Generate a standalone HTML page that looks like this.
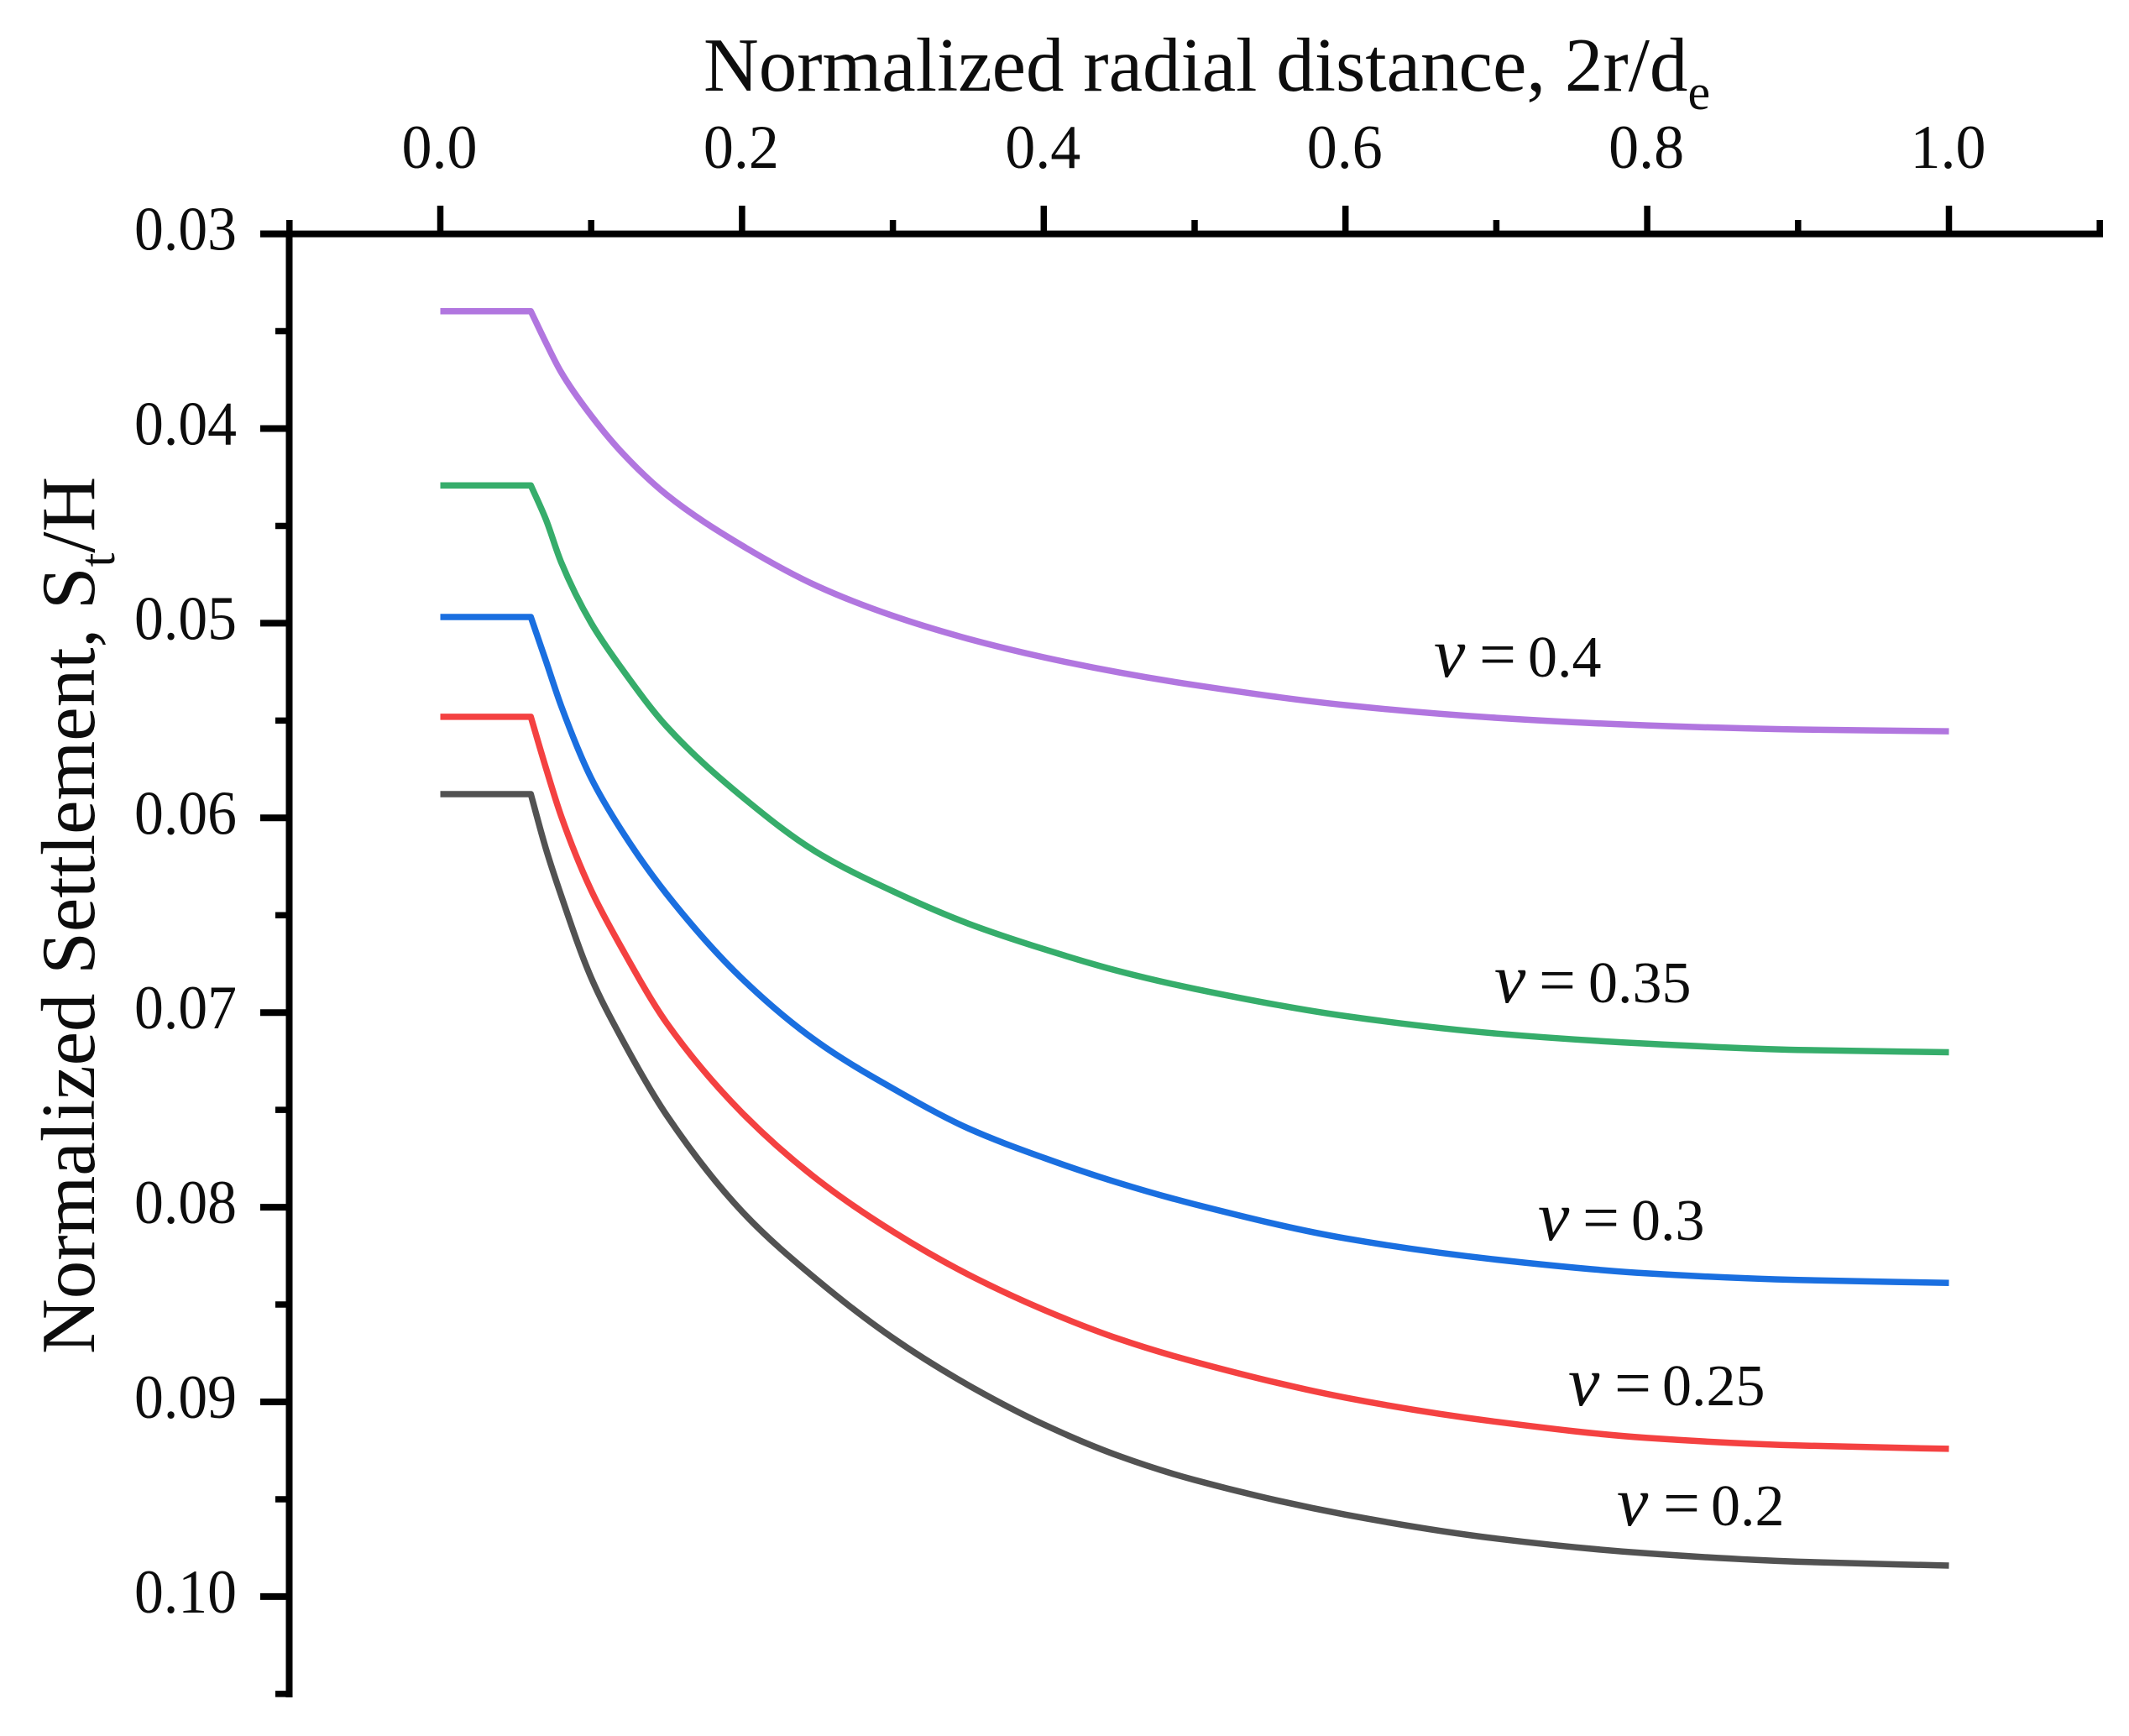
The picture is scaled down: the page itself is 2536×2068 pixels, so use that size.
<!DOCTYPE html>
<html lang="en">
<head>
<meta charset="utf-8">
<title>Normalized Settlement vs Radial Distance</title>
<style>
html,body{margin:0;padding:0;background:#fff;}
svg{display:block;}
text{font-family:"Liberation Serif","DejaVu Serif",serif;fill:#0d0d0d;}
</style>
</head>
<body>
<svg id="chart" xmlns="http://www.w3.org/2000/svg" width="2536" height="2068" viewBox="0 0 2536 2068">
  <rect x="0" y="0" width="2536" height="2068" fill="#ffffff"/>
  <g id="axes"></g>
  <g id="series"></g>
  <g id="tick-labels"></g>
  <text x="838" y="108" font-size="91">Normalized radial distance, 2r/d<tspan font-size="60" dy="22">e</tspan></text>
  <text transform="translate(112,1613) rotate(-90)" font-size="91">Normalized Settlement, S<tspan font-size="60" dy="24">t</tspan><tspan dy="-24">/H</tspan></text>
  <text y="806" font-size="70"><tspan x="1708" font-size="84" font-style="italic">ν</tspan><tspan x="1762" font-size="78">=</tspan><tspan x="1820">0.4</tspan></text>
  <text y="1194" font-size="70"><tspan x="1780" font-size="84" font-style="italic">ν</tspan><tspan x="1833" font-size="78">=</tspan><tspan x="1892">0.35</tspan></text>
  <text y="1477" font-size="70"><tspan x="1832" font-size="84" font-style="italic">ν</tspan><tspan x="1885" font-size="78">=</tspan><tspan x="1943">0.3</tspan></text>
  <text y="1674" font-size="70"><tspan x="1868" font-size="84" font-style="italic">ν</tspan><tspan x="1923" font-size="78">=</tspan><tspan x="1980">0.25</tspan></text>
  <text y="1817" font-size="70"><tspan x="1926" font-size="84" font-style="italic">ν</tspan><tspan x="1981" font-size="78">=</tspan><tspan x="2038">0.2</tspan></text>
</svg>
<script>
var radialDistance = [0, 0.06, 0.07, 0.08, 0.10, 0.12, 0.15, 0.20, 0.25, 0.30, 0.35, 0.40, 0.45, 0.50, 0.60, 0.70, 0.80, 0.90, 1.00];
var nu040 = [0.03397, 0.03397, 0.03559, 0.03710, 0.03934, 0.04120, 0.04340, 0.04601, 0.04810, 0.04962, 0.05080, 0.05175, 0.05253, 0.05318, 0.05421, 0.05486, 0.05525, 0.05546, 0.05555];
var nu035 = [0.04292, 0.04292, 0.04467, 0.04685, 0.04999, 0.05230, 0.05530, 0.05891, 0.06179, 0.06377, 0.06543, 0.06674, 0.06788, 0.06878, 0.07018, 0.07108, 0.07160, 0.07192, 0.07204];
var nu030 = [0.04968, 0.04968, 0.05194, 0.05423, 0.05796, 0.06063, 0.06391, 0.06826, 0.07151, 0.07390, 0.07595, 0.07746, 0.07876, 0.07985, 0.08160, 0.08269, 0.08340, 0.08374, 0.08389];
var nu025 = [0.05481, 0.05481, 0.05744, 0.05989, 0.06372, 0.06665, 0.07053, 0.07515, 0.07858, 0.08125, 0.08346, 0.08527, 0.08677, 0.08794, 0.08978, 0.09102, 0.09185, 0.09224, 0.09241];
var nu020 = [0.05878, 0.05878, 0.06159, 0.06397, 0.06821, 0.07130, 0.07527, 0.08022, 0.08375, 0.08672, 0.08914, 0.09116, 0.09278, 0.09401, 0.09579, 0.09702, 0.09778, 0.09821, 0.09841];
var xTickValues = [0.0, 0.2, 0.4, 0.6, 0.8, 1.0];
var xTickLabels = ["0.0", "0.2", "0.4", "0.6", "0.8", "1.0"];
var xMinorTicks = [-0.1, 0.1, 0.3, 0.5, 0.7, 0.9, 1.1];
var yTickValues = [0.03, 0.04, 0.05, 0.06, 0.07, 0.08, 0.09, 0.10];
var yTickLabels = ["0.03", "0.04", "0.05", "0.06", "0.07", "0.08", "0.09", "0.10"];
var yMinorTicks = [0.035, 0.045, 0.055, 0.065, 0.075, 0.085, 0.095, 0.105];

var NS = "http://www.w3.org/2000/svg";
function xScale(v) { return 524.5 + v * 1797; }
function yScale(v) { return 278.6 + (v - 0.03) * 23190; }

function line(parent, x1, y1, x2, y2, width) {
  var el = document.createElementNS(NS, "line");
  el.setAttribute("x1", x1);
  el.setAttribute("y1", y1);
  el.setAttribute("x2", x2);
  el.setAttribute("y2", y2);
  el.setAttribute("stroke", "#000");
  el.setAttribute("stroke-width", width);
  parent.appendChild(el);
  return el;
}

function curvePath(xs, ys) {
  var px = xs.map(xScale), py = ys.map(yScale);
  var d = "M" + px[0].toFixed(1) + " " + py[0].toFixed(1) + " L" + px[1].toFixed(1) + " " + py[1].toFixed(1);
  var n = px.length, sec = [], wid = [], tan = [], i;
  for (i = 1; i < n - 1; i++) {
    wid[i] = px[i + 1] - px[i];
    sec[i] = (py[i + 1] - py[i]) / wid[i];
  }
  tan[1] = sec[1];
  tan[n - 1] = sec[n - 2];
  for (i = 2; i < n - 1; i++) {
    var a = wid[i - 1], b = wid[i];
    tan[i] = (sec[i - 1] > 0 && sec[i] > 0)
      ? 3 * (a + b) / ((2 * b + a) / sec[i - 1] + (b + 2 * a) / sec[i])
      : 0;
  }
  for (i = 1; i < n - 1; i++) {
    var h = wid[i] / 3;
    d += " C" + (px[i] + h).toFixed(1) + " " + (py[i] + tan[i] * h).toFixed(1) + " " +
      (px[i + 1] - h).toFixed(1) + " " + (py[i + 1] - tan[i + 1] * h).toFixed(1) + " " +
      px[i + 1].toFixed(1) + " " + py[i + 1].toFixed(1);
  }
  return d;
}

var axes = document.getElementById("axes");
var seriesGroup = document.getElementById("series");
var labelGroup = document.getElementById("tick-labels");

var topAxis = line(axes, 310, 278.6, 2505, 278.6, 8);


var leftAxis = line(axes, 344.5, 275, 344.5, 2022, 8);



xTickValues.forEach(function (v, i) {
  var t = line(axes, xScale(v), 245, xScale(v), 278, 7.5);
  
  
  var label = document.createElementNS(NS, "text");
  
  
  label.setAttribute("x", xScale(v) - 1);
  label.setAttribute("y", 200);
  label.setAttribute("font-size", 74);
  label.setAttribute("text-anchor", "middle");
  label.setAttribute("textLength", 90);
  label.setAttribute("lengthAdjust", "spacingAndGlyphs");
  label.textContent = xTickLabels[i];
  labelGroup.appendChild(label);
});
xMinorTicks.forEach(function (v) {
  var t = line(axes, xScale(v), 262, xScale(v), 278, 7.5);
  
  
});
yTickValues.forEach(function (v, i) {
  var t = line(axes, 310, yScale(v), 345, yScale(v), 8);
  
  
  var label = document.createElementNS(NS, "text");
  
  
  label.setAttribute("x", 282);
  label.setAttribute("y", yScale(v) + 19);
  label.setAttribute("font-size", 74);
  label.setAttribute("text-anchor", "end");
  label.setAttribute("textLength", 122);
  label.setAttribute("lengthAdjust", "spacingAndGlyphs");
  label.textContent = yTickLabels[i];
  labelGroup.appendChild(label);
});
yMinorTicks.forEach(function (v) {
  var t = line(axes, 328, yScale(v), 345, yScale(v), 7.5);
  
  
});

function drawSeries(values, color, name) {
  var p = document.createElementNS(NS, "path");
  p.setAttribute("d", curvePath(radialDistance, values));
  p.setAttribute("fill", "none");
  p.setAttribute("stroke", color);
  p.setAttribute("stroke-width", 7.5);
  p.setAttribute("stroke-linejoin", "round");
  
  
  seriesGroup.appendChild(p);
}
drawSeries(nu020, "#525252", "series-nu-0.2");
drawSeries(nu025, "#f44141", "series-nu-0.25");
drawSeries(nu030, "#1a6fe0", "series-nu-0.3");
drawSeries(nu035, "#36ad6b", "series-nu-0.35");
drawSeries(nu040, "#b176df", "series-nu-0.4");
</script>
</body>
</html>
